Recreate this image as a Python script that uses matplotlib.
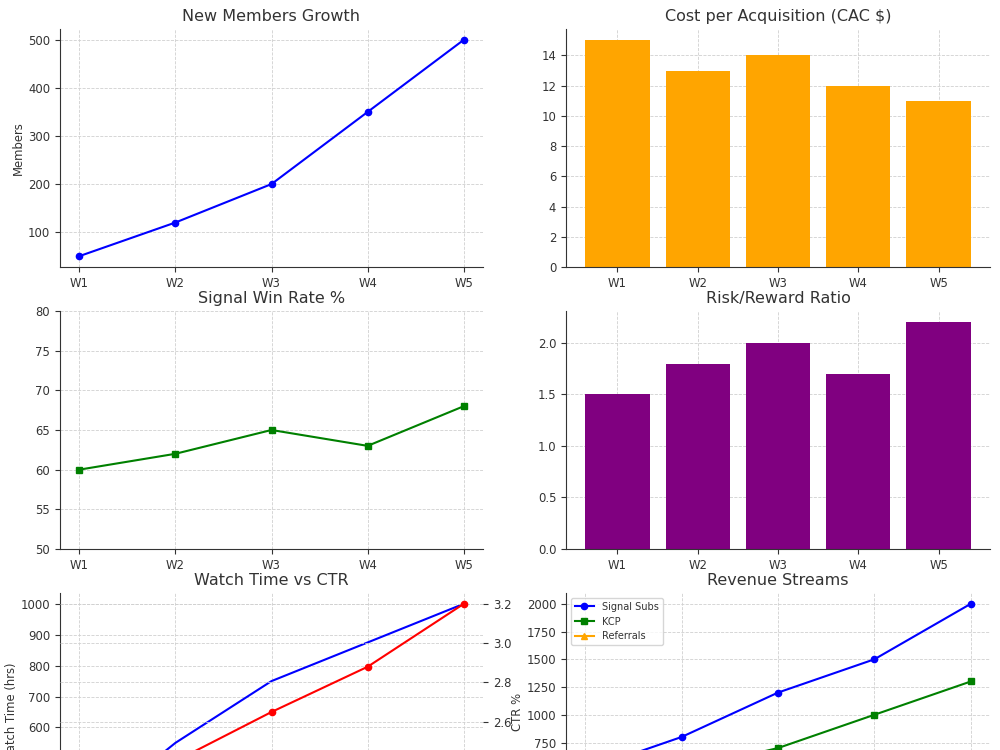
import matplotlib
matplotlib.use("Agg")
import matplotlib.pyplot as plt

weeks = ["W1", "W2", "W3", "W4", "W5"]
new_members = [50, 120, 200, 350, 500]
cac = [15, 13, 14, 12, 11]
win_rate = [60, 62, 65, 63, 68]
risk_reward = [1.5, 1.8, 2.0, 1.7, 2.2]
watch_time = [300, 550, 750, 875, 1000]
ctr = [2.1, 2.4, 2.65, 2.88, 3.2]
signal_subs = [500, 800, 1200, 1500, 2000]
kcp = [300, 500, 700, 1000, 1300]
referrals = [50, 100, 150, 250, 400]

TXT = "#333333"
plt.rcParams.update({
    "font.family": ["DejaVu Sans"],
    "font.size": 8.4,
    "text.color": TXT,
    "axes.labelcolor": TXT,
    "xtick.color": TXT,
    "ytick.color": TXT,
    "axes.edgecolor": "#333333",
    "axes.titlesize": 11.5,
    "axes.titlecolor": TXT,
    "xtick.labelsize": 8.4,
    "ytick.labelsize": 8.4,
    "axes.labelsize": 8.4,
})

fig = plt.figure(figsize=(10, 7.5), dpi=100)

W, H = 1000.0, 750.0
def box(left, top, right, bottom):
    return [left / W, 1 - bottom / H, (right - left) / W, (bottom - top) / H]

def style(ax):
    ax.spines["top"].set_visible(False)
    ax.spines["right"].set_visible(False)
    ax.grid(True, linestyle="--", color="#d0d0d0", linewidth=0.6)
    ax.set_axisbelow(True)

ax1 = fig.add_axes(box(60, 29, 483, 267))
ax2 = fig.add_axes(box(566, 29, 990, 267))
ax3 = fig.add_axes(box(60, 311, 483, 549))
ax4 = fig.add_axes(box(566, 311, 990, 549))
ax5 = fig.add_axes(box(60, 593, 483, 831))
ax6 = fig.add_axes(box(566, 593, 990, 831))

# New Members Growth
ax1.plot(weeks, new_members, color="blue", marker="o", markersize=4.5, linewidth=1.5)
ax1.set_title("New Members Growth")
ax1.set_ylabel("Members", labelpad=2)
style(ax1)

# CAC
ax2.bar(weeks, cac, color="orange", width=0.8)
ax2.set_title("Cost per Acquisition (CAC $)")
style(ax2)

# Signal Win Rate
ax3.plot(weeks, win_rate, color="green", marker="s", markersize=4.5, linewidth=1.5)
ax3.set_title("Signal Win Rate %")
ax3.set_ylim(50, 80)
style(ax3)

# Risk/Reward
ax4.bar(weeks, risk_reward, color="purple", width=0.8)
ax4.set_title("Risk/Reward Ratio")
style(ax4)

# Watch Time vs CTR
ax5.plot(weeks, watch_time, color="blue", linewidth=1.5)
ax5.set_title("Watch Time vs CTR")
ax5.set_ylabel("Watch Time (hrs)", labelpad=2)
style(ax5)
ax5b = ax5.twinx()
ax5b.plot(weeks, ctr, color="red", marker="o", markersize=4.5, linewidth=1.5)
ax5b.set_ylabel("CTR %", labelpad=0)
for s in ax5b.spines.values():
    s.set_visible(False)
ax5b.grid(True, linestyle="--", color="#d0d0d0", linewidth=0.6)

# Revenue Streams
ax6.plot(weeks, signal_subs, color="blue", marker="o", markersize=4.5, linewidth=1.5, label="Signal Subs")
ax6.plot(weeks, kcp, color="green", marker="s", markersize=4.5, linewidth=1.5, label="KCP")
ax6.plot(weeks, referrals, color="orange", marker="^", markersize=4.5, linewidth=1.5, label="Referrals")
ax6.set_title("Revenue Streams")
ax6.legend(loc="upper left", fontsize=7)
style(ax6)

fig.savefig("out.png", dpi=100)
